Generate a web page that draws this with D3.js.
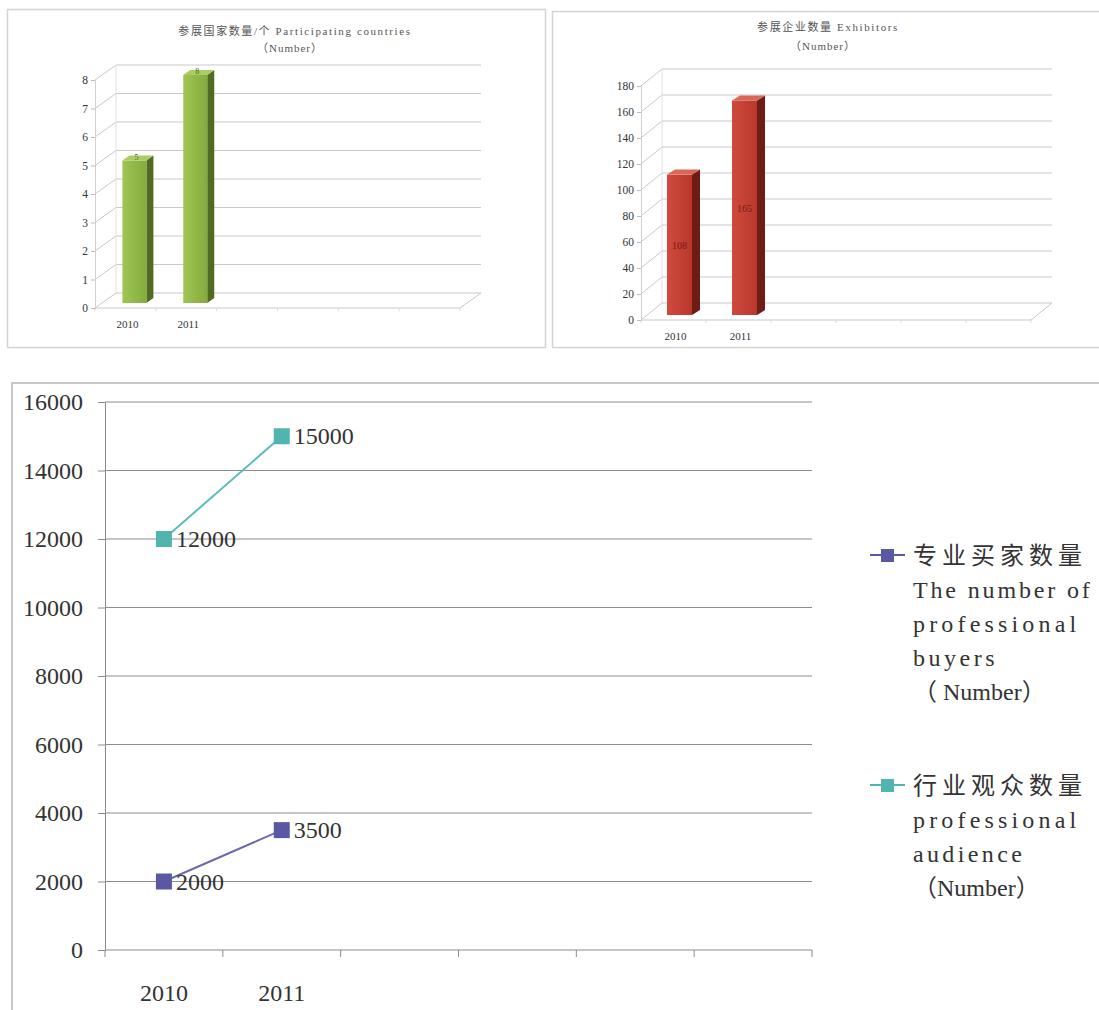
<!DOCTYPE html>
<html><head><meta charset="utf-8">
<script src="https://cdn.jsdelivr.net/npm/d3@7"></script>
<style>body{margin:0;background:#fff} svg{display:block}</style>
</head><body>
<svg id="c" width="1099" height="1010"></svg>
<script>
// ---------- data ----------
const years = ["2010", "2011"];
const slotCount = 6;
const countries = [5, 8];
const exhibitors = [108, 165];
const buyers = [2000, 3500];
const audience = [12000, 15000];
const countryTicks = [0, 1, 2, 3, 4, 5, 6, 7, 8];
const exhibitorTicks = [0, 20, 40, 60, 80, 100, 120, 140, 160, 180];
const visitorTicks = [0, 2000, 4000, 6000, 8000, 10000, 12000, 14000, 16000];
const titleCountries = ["参展国家数量/个 Participating countries", "（Number）"];
const titleExhibitors = ["参展企业数量 Exhibitors", "（Number）"];
const legendBuyers = ["专业买家数量", "The number of", "professional", "buyers", "（ Number）"];
const legendAudience = ["行业观众数量", "professional", "audience", "（Number）"];

const svg = d3.select("#c");
const defs = svg.append("defs");
function grad(id, a, b) {
  const g = defs.append("linearGradient").attr("id", id).attr("x1", 0).attr("x2", 1).attr("y1", 0).attr("y2", 0);
  g.append("stop").attr("offset", "0%").attr("stop-color", a);
  g.append("stop").attr("offset", "100%").attr("stop-color", b);
}
grad("gGreen", "#9ec653", "#84ab3c");
grad("gRed", "#cf4a3c", "#b8382c");

// ---------- panel borders ----------
svg.append("rect").attr("x", 7.5).attr("y", 9.5).attr("width", 538).attr("height", 338)
  .attr("fill", "none").attr("stroke", "#d4d4d4").attr("stroke-width", 1.5);
svg.append("rect").attr("x", 552.5).attr("y", 11.5).attr("width", 560).attr("height", 336)
  .attr("fill", "none").attr("stroke", "#d4d4d4").attr("stroke-width", 1.5);
svg.append("rect").attr("x", 12).attr("y", 383).attr("width", 1100).attr("height", 640)
  .attr("fill", "none").attr("stroke", "#c8c8c8").attr("stroke-width", 2);

// ---------- 3D column chart ----------
function chart3d(cfg) {
  const g = svg.append("g");
  const x = d3.scaleBand().domain(d3.range(slotCount)).range([cfg.left, cfg.right]);
  const y = d3.scaleLinear().domain([0, cfg.max]).range([cfg.floor, cfg.top]);
  const dx = cfg.dx, dy = cfg.dy, grid = "#c9c9c9";

  g.selectAll("text.title").data(cfg.title).join("text")
    .attr("x", (d, i) => cfg.titleX[i]).attr("y", (d, i) => cfg.titleY[i])
    .attr("text-anchor", "middle")
    .attr("font-family", "'Liberation Serif','Noto Sans CJK SC',serif")
    .attr("font-size", 11).attr("letter-spacing", (d, i) => i === 0 ? cfg.titleSpacing : 1)
    .attr("fill", "#555").text(d => d);

  g.selectAll("line.back").data(cfg.ticks).join("line")
    .attr("x1", cfg.left + dx).attr("x2", cfg.right + dx)
    .attr("y1", d => y(d) + dy).attr("y2", d => y(d) + dy)
    .attr("stroke", grid).attr("stroke-width", 1);
  g.selectAll("line.side").data(cfg.ticks).join("line")
    .attr("x1", cfg.left).attr("x2", cfg.left + dx)
    .attr("y1", d => y(d)).attr("y2", d => y(d) + dy)
    .attr("stroke", grid).attr("stroke-width", 1);
  g.append("line").attr("x1", cfg.left + dx).attr("x2", cfg.left + dx)
    .attr("y1", y(0) + dy).attr("y2", y(cfg.max) + dy).attr("stroke", "#e2e2e2");
  g.append("line").attr("x1", cfg.left).attr("x2", cfg.right).attr("y1", y(0)).attr("y2", y(0))
    .attr("stroke", grid);
  g.append("line").attr("x1", cfg.right).attr("x2", cfg.right + dx).attr("y1", y(0)).attr("y2", y(0) + dy)
    .attr("stroke", grid);
  g.selectAll("line.ft").data(d3.range(slotCount + 1)).join("line")
    .attr("x1", i => cfg.left + i * x.step()).attr("x2", i => cfg.left + i * x.step())
    .attr("y1", y(0)).attr("y2", y(0) + 3).attr("stroke", "#d8d8d8");

  const ax = g.append("g").attr("transform", `translate(${cfg.left},0)`)
    .call(d3.axisLeft(y).tickValues(cfg.ticks).tickSize(4).tickPadding(3).tickFormat(d3.format("d")));
  ax.select(".domain").attr("stroke", "#d0d0d0");
  ax.selectAll(".tick line").attr("stroke", "#bbb");
  ax.selectAll(".tick text").attr("font-family", "'Liberation Serif',serif").attr("font-size", 11.5).attr("fill", "#333");

  g.selectAll("text.cat").data(years).join("text")
    .attr("x", (d, i) => x(i) + x.bandwidth() / 2 + 2).attr("y", cfg.floor + 20)
    .attr("text-anchor", "middle").attr("font-family", "'Liberation Serif',serif")
    .attr("font-size", 11).attr("fill", "#333").text(d => d);

  const bw = cfg.barW, sdx = cfg.sdx, sdy = -5;
  const bars = g.selectAll("g.bar").data(cfg.values).join("g");
  bars.each(function (v, i) {
    const b = d3.select(this);
    const cx = x(i) + x.bandwidth() / 2 + cfg.shift;
    const x0 = cx - bw / 2, x1 = cx + bw / 2;
    const yt = y(v) - 5, yb = y(0) - 5;
    b.append("path").attr("d", `M${x1},${yt}L${x1 + sdx},${yt + sdy}L${x1 + sdx},${yb + sdy}L${x1},${yb}Z`)
      .attr("fill", cfg.side);
    b.append("rect").attr("x", x0).attr("y", yt).attr("width", bw).attr("height", yb - yt)
      .attr("fill", cfg.front);
    b.append("path").attr("d", `M${x0},${yt}L${x0 + sdx},${yt + sdy}L${x1 + sdx},${yt + sdy}L${x1},${yt}Z`)
      .attr("fill", cfg.topC);
    if (cfg.inLabel) {
      b.append("text").attr("x", cx).attr("y", (yt + yb) / 2 + 4).attr("text-anchor", "middle")
        .attr("font-family", "'Liberation Serif',serif").attr("font-size", 10)
        .attr("fill", "#7a1a14").text(v);
    } else {
      b.append("text").attr("x", cx + 2).attr("y", yt - 1).attr("text-anchor", "middle")
        .attr("font-family", "'Liberation Serif',serif").attr("font-size", 8)
        .attr("fill", "#4a6420").text(v);
    }
  });
}

chart3d({
  left: 95, right: 460, floor: 308, top: 80, max: 8, dx: 21, dy: -15,
  ticks: countryTicks, values: countries, title: titleCountries,
  titleX: [295, 290], titleY: [35, 52], titleSpacing: 1.6,
  barW: 24, shift: 9, sdx: 7,
  front: "url(#gGreen)", side: "#4f6c20", topC: "#a9cd62", inLabel: false
});
chart3d({
  left: 641, right: 1031, floor: 320, top: 86, max: 180, dx: 21, dy: -17,
  ticks: exhibitorTicks, values: exhibitors, title: titleExhibitors,
  titleX: [828, 823], titleY: [31, 50], titleSpacing: 1.6,
  barW: 25, shift: 6, sdx: 8,
  front: "url(#gRed)", side: "#701c16", topC: "#d96656", inLabel: true
});

// ---------- line chart ----------
const lg = svg.append("g");
const xb = d3.scaleBand().domain(d3.range(slotCount)).range([105, 812]);
const yl = d3.scaleLinear().domain([0, 16000]).range([950, 402]);

lg.selectAll("line.grid").data(visitorTicks.slice(1)).join("line")
  .attr("x1", 105).attr("x2", 812).attr("y1", d => yl(d)).attr("y2", d => yl(d))
  .attr("stroke", "#8c8c8c").attr("stroke-width", 1);

const yax = lg.append("g").attr("transform", "translate(105,0)")
  .call(d3.axisLeft(yl).tickValues(visitorTicks).tickSize(7).tickPadding(15).tickFormat(d3.format("d")));
yax.select(".domain").attr("stroke", "#8c8c8c");
yax.selectAll(".tick line").attr("stroke", "#8c8c8c");
yax.selectAll(".tick text").attr("font-family", "'Liberation Serif',serif").attr("font-size", 24).attr("fill", "#333");

lg.append("line").attr("x1", 105).attr("x2", 812).attr("y1", yl(0)).attr("y2", yl(0)).attr("stroke", "#8c8c8c");
lg.selectAll("line.xt").data(d3.range(slotCount + 1)).join("line")
  .attr("x1", i => 105 + i * xb.step()).attr("x2", i => 105 + i * xb.step())
  .attr("y1", yl(0)).attr("y2", yl(0) + 7).attr("stroke", "#8c8c8c");
lg.selectAll("text.xl").data(years).join("text")
  .attr("x", (d, i) => xb(i) + xb.bandwidth() / 2).attr("y", 1001)
  .attr("text-anchor", "middle").attr("font-family", "'Liberation Serif',serif")
  .attr("font-size", 24).attr("fill", "#333").text(d => d);

const series = [
  { vals: audience, color: "#5cbdb7", mark: "#4fb5ae" },
  { vals: buyers, color: "#6a68ad", mark: "#5a58a2" }
];
const line = d3.line().x((d, i) => xb(i) + xb.bandwidth() / 2).y(d => yl(d));
series.forEach(s => {
  lg.append("path").datum(s.vals).attr("d", line).attr("fill", "none")
    .attr("stroke", s.color).attr("stroke-width", 2);
  lg.selectAll(null).data(s.vals).join("rect")
    .attr("x", (d, i) => xb(i) + xb.bandwidth() / 2 - 8).attr("y", d => yl(d) - 8)
    .attr("width", 16).attr("height", 16).attr("fill", s.mark);
  lg.selectAll(null).data(s.vals).join("text")
    .attr("x", (d, i) => xb(i) + xb.bandwidth() / 2 + 12).attr("y", d => yl(d) + 8)
    .attr("font-family", "'Liberation Serif',serif").attr("font-size", 24).attr("fill", "#333")
    .text(d => d);
});

// ---------- legend ----------
function legend(lines, y0, color) {
  const g = svg.append("g");
  g.append("line").attr("x1", 870).attr("x2", 905).attr("y1", y0).attr("y2", y0)
    .attr("stroke", color).attr("stroke-width", 2);
  g.append("rect").attr("x", 881).attr("y", y0 - 6).attr("width", 13).attr("height", 13).attr("fill", color);
  g.selectAll("text").data(lines).join("text")
    .attr("x", 913).attr("y", (d, i) => y0 + 9 + i * 34)
    .attr("font-family", "'Liberation Serif','Noto Sans CJK SC',serif")
    .attr("font-size", 24)
    .attr("letter-spacing", (d, i) => i === 0 ? 5 : 0)
    .each(function (d, i) {
      if (i > 0 && /^[A-Za-z]/.test(d)) {
        d3.select(this).attr("textLength", d.length * 13.6).attr("lengthAdjust", "spacing");
      }
    })
    .attr("fill", "#333").text(d => d);
}
legend(legendBuyers, 555, "#5a58a2");
legend(legendAudience, 785, "#4fb5ae");
</script>
</body></html>
